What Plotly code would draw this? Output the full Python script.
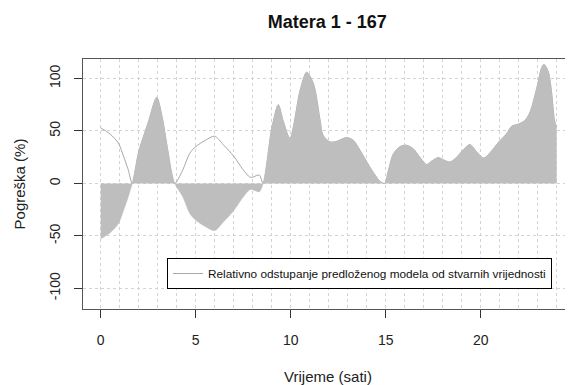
import plotly.graph_objects as go

hours = [0, 0.5, 0.93, 1.2, 1.45, 1.66, 2.0, 2.5, 2.95, 3.25, 3.5, 3.9,
         4.3, 4.7, 5.0, 5.5, 6.0, 6.45, 7.0, 7.5, 7.85, 8.0, 8.35, 8.55,
         9.0, 9.35, 9.6, 9.96, 10.5, 10.84, 11.2, 11.55, 11.7, 12.07, 12.4,
         12.95, 13.3, 13.65, 14.17, 14.7, 14.95, 15.14, 15.4, 15.75, 16.1,
         16.45, 16.8, 17.16, 17.4, 17.77, 18.03, 18.38, 18.74, 19.08, 19.44,
         19.79, 20.17, 20.5, 20.93, 21.37, 21.63, 21.98, 22.33, 22.6, 22.95,
         23.2, 23.33, 23.56, 23.73, 23.9, 24.0]
errors = [-53, -47, -38.5, -26, -13, 0, 30, 58, 82, 62, 35, 0,
          -12, -29, -35, -41, -45, -37, -26, -13, -6, -6, -8, 0,
          52, 75, 60, 43, 89, 106, 95, 60, 46, 39.5, 40,
          43.7, 41, 31.6, 15.6, 2, 0, 12, 28, 35, 36.4,
          33, 25, 18, 21, 24.6, 22.6, 20.4, 25, 32, 37,
          30, 24.2, 29.4, 39, 47.5, 54.5, 56.5, 60, 68, 90.6,
          109.7, 113.5, 106.5, 87, 58.6, 54]
abs_errors = [abs(v) for v in errors]

x_ticks = [0, 5, 10, 15, 20]
y_ticks = [-100, -50, 0, 50, 100]

title = "Matera 1 - 167"
x_title = "Vrijeme (sati)"
y_title = "Pogreška (%)"
legend_label = "Relativno odstupanje predloženog modela od stvarnih vrijednosti"

FONT = "Liberation Sans, Arial, sans-serif"

# page has an 8px body margin; figure is placed at (8, 8)
W, H = 565, 377

fig = go.Figure()
fig.add_trace(go.Scatter(
    x=hours, y=abs_errors, mode="lines", name=legend_label,
    line=dict(color="#A8A8A8", width=1, shape="spline", smoothing=0.8),
    showlegend=True,
))
fig.add_trace(go.Scatter(
    x=hours, y=errors, mode="lines", fill="tozeroy",
    fillcolor="#BEBEBE", line=dict(color="rgba(190,190,190,1)", width=0.5, shape="spline", smoothing=0.8),
    showlegend=False, hoverinfo="skip",
))

fig.update_layout(
    width=W, height=H,
    margin=dict(l=75, r=0, t=51, b=76, autoexpand=False),
    paper_bgcolor="white", plot_bgcolor="white",
    font=dict(family=FONT, color="#222222"),
    title=dict(text="<b>" + title + "</b>", x=(319.3 / W), xanchor="center",
               y=1 - 14 / H, yanchor="middle", font=dict(size=18, color="#111111")),
    showlegend=True,
    legend=dict(x=(167 - 83) / 490, y=(309 - 258) / 250, xanchor="left", yanchor="top",
                bgcolor="white", bordercolor="#000000", borderwidth=1,
                font=dict(size=11.8, color="#111111")),
)
fig.update_xaxes(
    range=[-0.93, 24.86], tickvals=x_ticks, ticktext=[str(t) for t in x_ticks],
    ticks="outside", ticklen=8, tickcolor="#333333", tickfont=dict(size=14),
    ticklabelstandoff=10,
    showline=True, linecolor="#555555", linewidth=1, mirror=True,
    showgrid=True, gridcolor="#D3D3D3", griddash="dot", gridwidth=1,
    minor=dict(dtick=1, tick0=0, showgrid=True, gridcolor="#D3D3D3", griddash="dot", ticks=""),
    zeroline=False, automargin=False,
    title=dict(text=x_title, font=dict(size=15), standoff=27),
)
fig.update_yaxes(
    range=[-119.7, 118.6], tickvals=y_ticks, ticktext=[str(t) for t in y_ticks],
    ticks="outside", ticklen=8, tickcolor="#333333", tickfont=dict(size=14), tickangle=-90,
    ticklabelstandoff=8,
    showline=True, linecolor="#555555", linewidth=1, mirror=False,
    showgrid=True, gridcolor="#D3D3D3", griddash="dot", gridwidth=1,
    zeroline=False, automargin=False,
    title=dict(text=y_title, font=dict(size=15), standoff=18),
)

fig.write_html("out.html")
